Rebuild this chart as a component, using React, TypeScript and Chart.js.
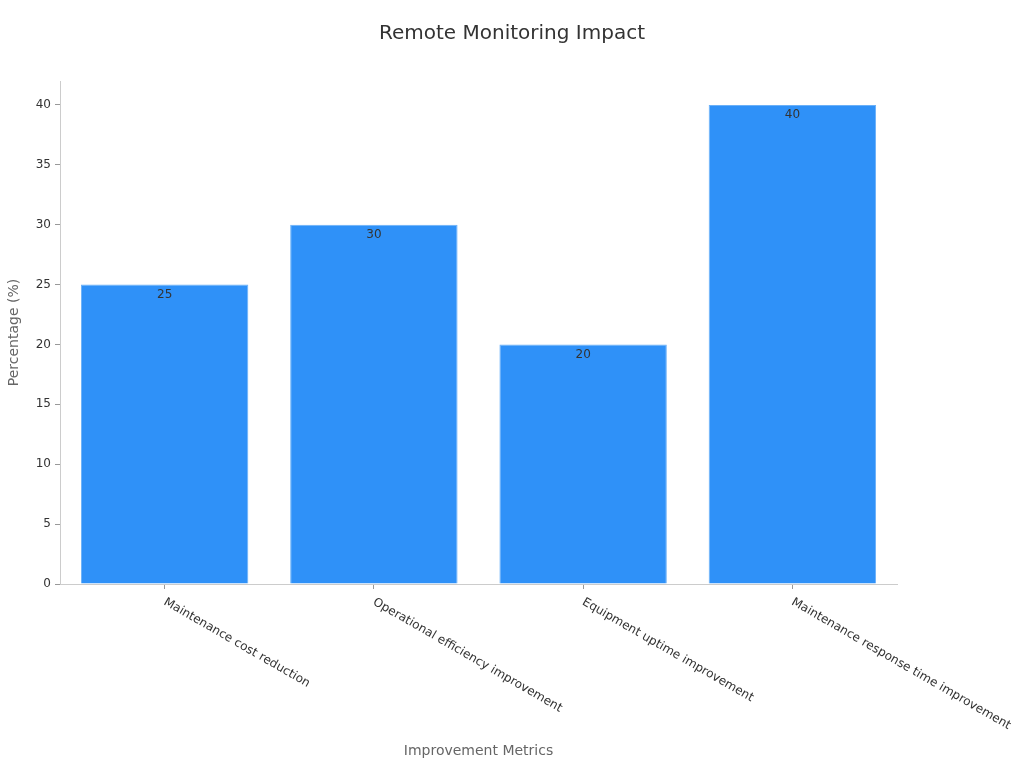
import React, { useEffect, useRef } from "react";
import { Chart, registerables } from "chart.js";

Chart.register(...registerables);

const categories = [
  "Maintenance cost reduction",
  "Operational efficiency improvement",
  "Equipment uptime improvement",
  "Maintenance response time improvement",
];
const values = [25, 30, 20, 40];
const yTicks = [0, 5, 10, 15, 20, 25, 30, 35, 40];
const chartTitle = "Remote Monitoring Impact";

const FONT = "'DejaVu Sans', sans-serif";

const titlePlugin = {
  id: "centeredTitle",
  afterDraw(chart: any) {
    const ctx = chart.ctx;
    ctx.save();
    ctx.font = `20px ${FONT}`;
    ctx.fillStyle = "#333333";
    ctx.textAlign = "center";
    ctx.textBaseline = "middle";
    ctx.fillText(chartTitle, chart.width / 2, 34);
    ctx.restore();
  },
};

const valueLabels = {
  id: "valueLabels",
  afterDatasetsDraw(chart: any) {
    const ctx = chart.ctx;
    const meta = chart.getDatasetMeta(0);
    ctx.save();
    ctx.font = `12px ${FONT}`;
    ctx.fillStyle = "#333333";
    ctx.textAlign = "center";
    ctx.textBaseline = "middle";
    meta.data.forEach((bar: any, i: number) => {
      ctx.fillText(String(values[i]), bar.x, bar.y + 10);
    });
    ctx.restore();
  },
};

const rotatedXLabels = {
  id: "rotatedXLabels",
  afterDraw(chart: any) {
    const ctx = chart.ctx;
    const scale = chart.scales.x;
    ctx.save();
    ctx.font = `12px ${FONT}`;
    ctx.fillStyle = "#333333";
    ctx.textAlign = "left";
    ctx.textBaseline = "top";
    categories.forEach((label, i) => {
      const x = scale.getPixelForTick(i);
      ctx.save();
      ctx.translate(x + 3, scale.top + 12);
      ctx.rotate(Math.PI / 6);
      ctx.fillText(label, 0, 0);
      ctx.restore();
    });
    ctx.restore();
  },
};

export default function App() {
  const ref = useRef<HTMLCanvasElement | null>(null);
  useEffect(() => {
    document.body.style.margin = "0";
    const chart = new Chart(ref.current as HTMLCanvasElement, {
      type: "bar",
      data: {
        labels: categories,
        datasets: [
          {
            data: values,
            backgroundColor: "#2F91F8",
            borderColor: "#6AB0F8",
            borderWidth: 1,
            barPercentage: 1,
            categoryPercentage: 0.8,
          },
        ],
      },
      options: {
        animation: false,
        responsive: false,
        maintainAspectRatio: false,
        layout: { padding: { left: 0, right: 127, top: 81, bottom: 0 } },
        plugins: {
          legend: { display: false },
          tooltip: { enabled: false },
          title: { display: false },
        },
        scales: {
          x: {
            grid: {
              display: true,
              offset: false,
              drawOnChartArea: false,
              drawTicks: true,
              tickLength: 5,
              color: "#999999",
            },
            border: { color: "#cccccc" },
            ticks: {
              callback: () => "",
              maxRotation: 0,
              font: { family: FONT, size: 12 },
            },
            title: {
              display: true,
              text: "Improvement Metrics",
              color: "#666666",
              font: { family: FONT, size: 14 },
              padding: { top: 0, bottom: 8 },
            },
            afterFit(scale: any) {
              scale.height = 184;
            },
          },
          y: {
            min: 0,
            max: 42,
            grid: {
              display: true,
              drawOnChartArea: false,
              drawTicks: true,
              tickLength: 5,
              color: "#999999",
            },
            border: { color: "#cccccc" },
            afterBuildTicks(scale: any) {
              scale.ticks = yTicks.map((v) => ({ value: v }));
            },
            ticks: {
              color: "#333333",
              padding: 4,
              font: { family: FONT, size: 12 },
            },
            title: {
              display: true,
              text: "Percentage (%)",
              color: "#666666",
              font: { family: FONT, size: 14 },
              padding: { top: 6, bottom: 4 },
            },
            afterFit(scale: any) {
              scale.width = 60;
            },
          },
        },
      },
      plugins: [valueLabels, rotatedXLabels, titlePlugin],
    } as any);
    return () => chart.destroy();
  }, []);
  return (
    <div style={{ position: "absolute", left: 0, top: 0, width: 1024, height: 768 }}>
      <canvas ref={ref} width={1024} height={768} />
    </div>
  );
}
